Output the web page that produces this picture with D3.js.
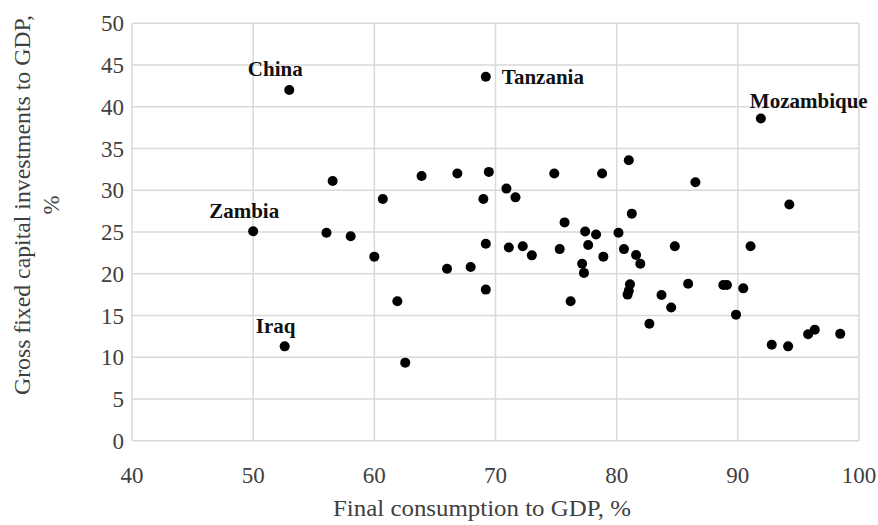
<!DOCTYPE html>
<html>
<head>
<meta charset="utf-8">
<script src="https://cdn.jsdelivr.net/npm/d3@7"></script>
<style>
    body { margin: 0; background: #fff; }
    svg { display: block; font-family: "Liberation Serif", "Times New Roman", serif; }
    .grid line { stroke: #d9d9d9; stroke-width: 1.5; }
    .tick-label { fill: #404040; font-size: 23px; }
    .axis-title { fill: #404040; font-size: 23px; }
    .country { fill: #111; font-size: 21px; font-weight: bold; }
</style>
</head>
<body>
<svg id="chart"></svg>
<script>
// Final consumption to GDP, % (x) and gross fixed capital investments to GDP, % (y)
const consumption = [
    52.98, 69.2, 91.9, 50.0, 52.6,
    56.56, 60.7, 63.9, 66.85, 69.45, 69.0, 56.05, 58.05, 69.2,
    74.85, 78.8, 81.0, 86.5, 70.9, 71.65, 94.25, 81.25, 75.7,
    77.4, 78.3, 80.15, 71.1, 72.25, 75.3, 77.65, 80.6, 84.8,
    91.05, 73.0, 78.9, 81.6, 81.95, 77.15, 77.3, 69.2, 76.2,
    81.1, 81.0, 80.9, 83.7, 84.5, 82.7, 85.9, 88.8, 89.1,
    90.45, 89.85, 92.8, 94.15, 95.8, 96.35, 98.45, 60.0, 66.0,
    67.95, 61.9, 62.55
];
const investment = [
    42.0, 43.6, 38.6, 25.1, 11.3,
    31.1, 28.95, 31.7, 32.0, 32.2, 28.95, 24.9, 24.5, 23.6,
    32.0, 32.0, 33.6, 30.95, 30.2, 29.15, 28.3, 27.2, 26.15,
    25.05, 24.7, 24.9, 23.15, 23.3, 22.95, 23.45, 22.95, 23.3,
    23.3, 22.2, 22.05, 22.25, 21.2, 21.2, 20.1, 18.1, 16.7,
    18.75, 17.95, 17.5, 17.45, 15.95, 14.0, 18.8, 18.65, 18.65,
    18.25, 15.1, 11.5, 11.3, 12.75, 13.3, 12.8, 22.05, 20.6,
    20.8, 16.7, 9.35
];
// Named countries are the first five points
const countryNames = ["China", "Tanzania", "Mozambique", "Zambia", "Iraq"];

const xTicks = [40, 50, 60, 70, 80, 90, 100];
const yTicks = [0, 5, 10, 15, 20, 25, 30, 35, 40, 45, 50];

const width = 878,
    height = 525;

// label placement relative to its dot
const labelOffsets = {
    "China": { dx: -14, dy: -14, anchor: "middle" },
    "Tanzania": { dx: 16, dy: 7.5, anchor: "start" },
    "Mozambique": { dx: -11, dy: -10, anchor: "start" },
    "Zambia": { dx: -9, dy: -13, anchor: "middle" },
    "Iraq": { dx: -9, dy: -13, anchor: "middle" }
};

const svg = d3.select("#chart")
    .attr("width", width)
    .attr("height", height);

const x = d3.scaleLinear().domain([40, 100]).range([132, 859]);
const y = d3.scaleLinear().domain([0, 50]).range([440.7, 23.3]);

const points = consumption.map(function (c, i) {
    return { x: c, y: investment[i], name: countryNames[i] || null };
});

const grid = svg.append("g").attr("class", "grid");

grid.selectAll("line.v")
    .data(xTicks)
    .enter()
    .append("line")
    .attr("class", "v")
    .attr("x1", function (d) { return x(d); })
    .attr("x2", function (d) { return x(d); })
    .attr("y1", y(0))
    .attr("y2", y(50));

grid.selectAll("line.h")
    .data(yTicks)
    .enter()
    .append("line")
    .attr("class", "h")
    .attr("x1", x(40))
    .attr("x2", x(100))
    .attr("y1", function (d) { return y(d); })
    .attr("y2", function (d) { return y(d); });

svg.append("g")
    .selectAll("text")
    .data(xTicks)
    .enter()
    .append("text")
    .attr("class", "tick-label")
    .attr("x", function (d) { return x(d); })
    .attr("y", 483)
    .attr("text-anchor", "middle")
    .text(function (d) { return d; });

svg.append("g")
    .selectAll("text")
    .data(yTicks)
    .enter()
    .append("text")
    .attr("class", "tick-label")
    .attr("x", 124)
    .attr("y", function (d) { return y(d); })
    .attr("dy", "0.35em")
    .attr("text-anchor", "end")
    .text(function (d) { return d; });

svg.append("g")
    .selectAll("circle")
    .data(points)
    .enter()
    .append("circle")
    .attr("cx", function (d) { return x(d.x); })
    .attr("cy", function (d) { return y(d.y); })
    .attr("r", 5)
    .attr("fill", "#000");

svg.append("g")
    .selectAll("text")
    .data(points.filter(function (d) { return d.name; }))
    .enter()
    .append("text")
    .attr("class", "country")
    .attr("x", function (d) { return x(d.x) + labelOffsets[d.name].dx; })
    .attr("y", function (d) { return y(d.y) + labelOffsets[d.name].dy; })
    .attr("text-anchor", function (d) { return labelOffsets[d.name].anchor; })
    .text(function (d) { return d.name; });

svg.append("text")
    .attr("class", "axis-title")
    .attr("x", 482)
    .attr("y", 516)
    .attr("text-anchor", "middle")
    .attr("textLength", 298)
    .attr("lengthAdjust", "spacingAndGlyphs")
    .text("Final consumption to GDP, %");

const yTitle = svg.append("text")
    .attr("class", "axis-title")
    .attr("transform", "translate(30,205) rotate(-90)")
    .attr("text-anchor", "middle");

yTitle.append("tspan")
    .attr("x", 0)
    .attr("y", 0)
    .attr("textLength", 380)
    .attr("lengthAdjust", "spacingAndGlyphs")
    .text("Gross fixed capital investments to GDP,");

yTitle.append("tspan")
    .attr("x", 0)
    .attr("y", 29)
    .text("%");
</script>
</body>
</html>
